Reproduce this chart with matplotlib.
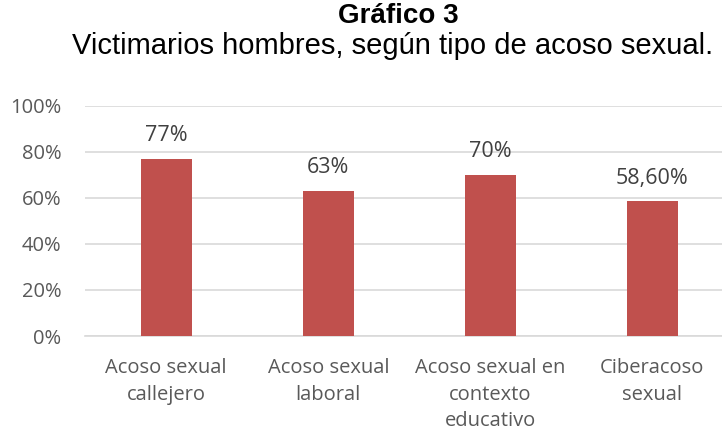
import matplotlib.pyplot as plt
import numpy as np

categories = ["Acoso sexual\ncallejero", "Acoso sexual\nlaboral",
              "Acoso sexual en\ncontexto\neducativo", "Ciberacoso\nsexual"]
values = [0.77, 0.63, 0.70, 0.586]
value_labels = ["77%", "63%", "70%", "58,60%"]
yticks = [0, 0.2, 0.4, 0.6, 0.8, 1.0]
ytick_labels = ["0%", "20%", "40%", "60%", "80%", "100%"]

font = "Open Sans"
text_color = "#595959"
bar_color = "#C0504D"

fig = plt.figure(figsize=(7.22, 4.33), dpi=100)
ax = fig.add_axes([0.118, 0.224, 0.882, 0.532])

x = np.arange(len(categories))
ax.bar(x, values, width=0.315, color=bar_color, zorder=3)

for xi, v, lab in zip(x, values, value_labels):
    ax.annotate(lab, (xi, v), xytext=(0, 9), textcoords="offset points",
                ha="center", va="bottom", fontsize=15.5, color="#404040",
                family=font)

ax.set_xlim(-0.5, 3.43)
ax.set_ylim(0, 1.0)
ax.set_yticks(yticks)
ax.set_yticklabels(ytick_labels, family=font, fontsize=14.5, color=text_color)
ax.set_xticks(x)
ax.set_xticklabels(categories, family=font, fontsize=14.5, color=text_color,
                   linespacing=1.42)
ax.tick_params(axis="both", length=0)
ax.tick_params(axis="x", pad=16)
ax.tick_params(axis="y", pad=17)
ax.grid(axis="y", color="#D9D9D9", linewidth=1.2, zorder=0)
for s in ["top", "right", "left"]:
    ax.spines[s].set_visible(False)
ax.spines["bottom"].set_color("#D9D9D9")
ax.spines["bottom"].set_linewidth(1.2)

fig.text(0.551, 0.963, "Gráfico 3", ha="center", va="center",
         family="Liberation Sans", fontsize=20, fontweight="bold")
fig.text(0.544, 0.893, "Victimarios hombres, según tipo de acoso sexual.",
         ha="center", va="center", family="Liberation Sans", fontsize=21)

fig.savefig("out.png", dpi=100)
